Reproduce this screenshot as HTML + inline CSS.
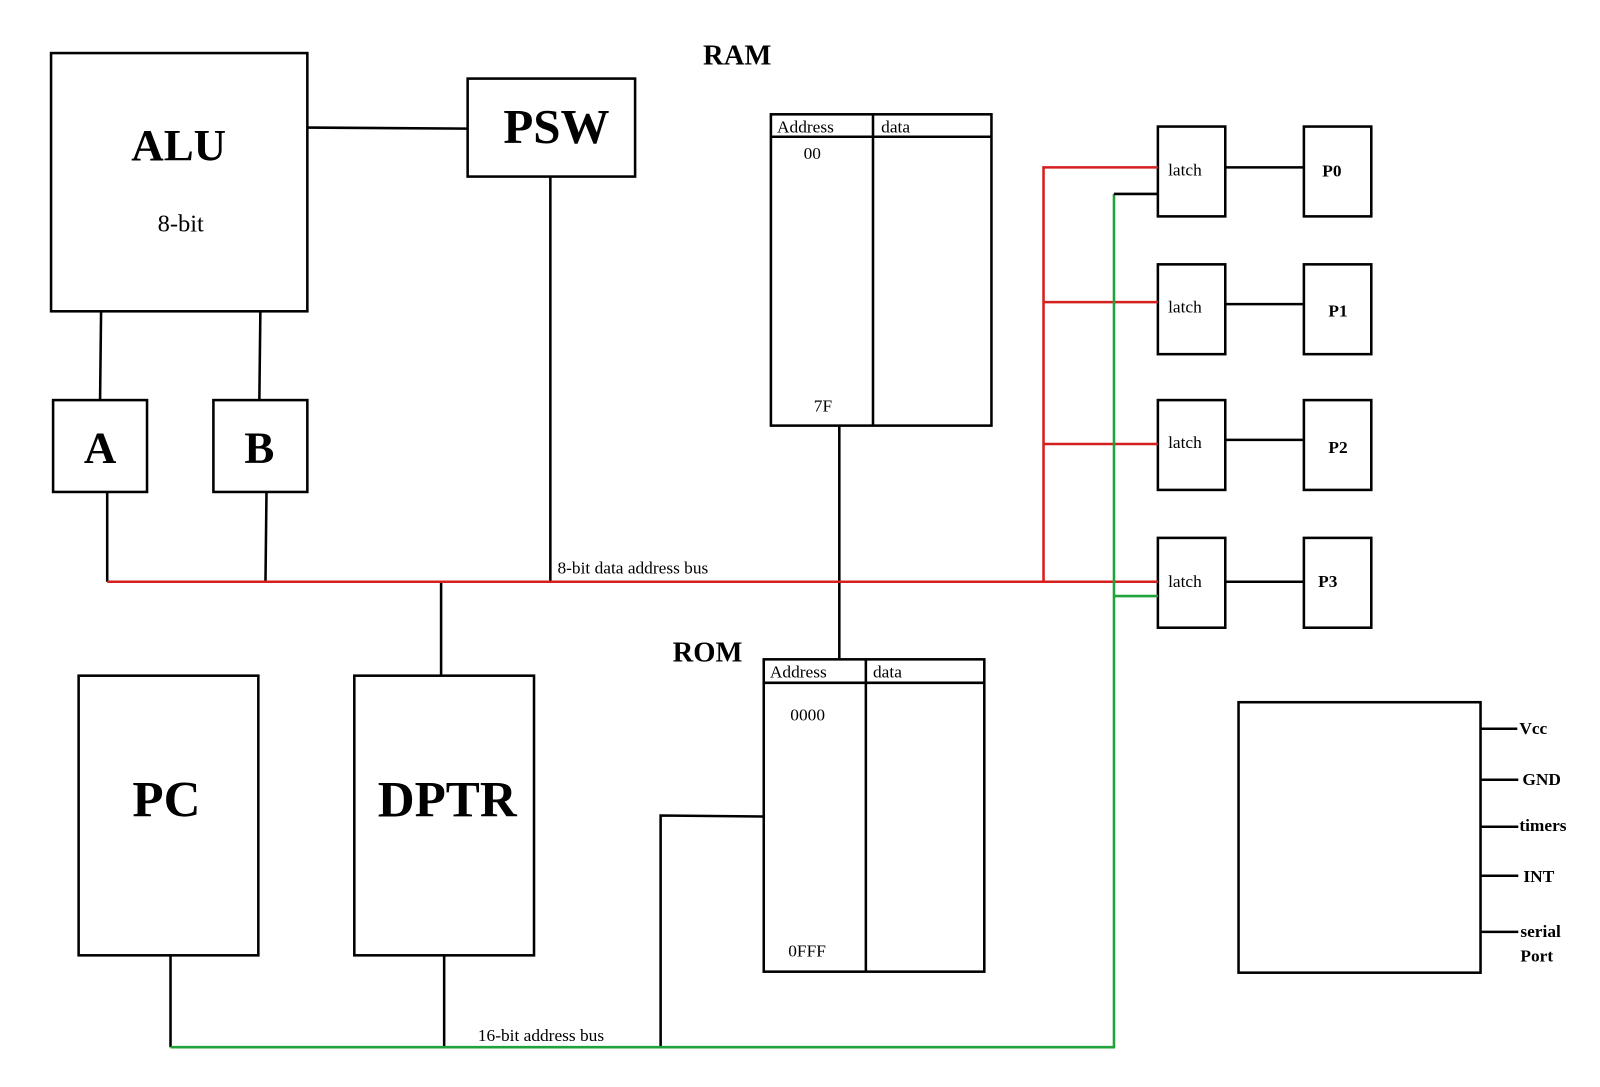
<!DOCTYPE html>
<html><head><meta charset="utf-8"><style>html,body{margin:0;padding:0;background:#fff}svg{display:block}text{font-family:"Liberation Serif",serif;fill:#000}</style></head><body>
<svg width="1600" height="1087" viewBox="0 0 1567 1065" preserveAspectRatio="none" xmlns="http://www.w3.org/2000/svg">
<g fill="none" stroke="#000" stroke-width="2.5">
<rect x="50" y="52" width="251" height="253"/>
<rect x="458" y="77" width="164" height="96"/>
<rect x="52" y="392" width="92" height="90"/>
<rect x="209" y="392" width="92" height="90"/>
<rect x="755" y="112" width="216" height="305"/>
<line x1="755" y1="134" x2="971" y2="134"/>
<line x1="855" y1="112" x2="855" y2="417"/>
<rect x="748" y="646" width="216" height="306"/>
<line x1="748" y1="669" x2="964" y2="669"/>
<line x1="848" y1="646" x2="848" y2="952"/>
<rect x="77" y="662" width="176" height="274"/>
<rect x="347" y="662" width="176" height="274"/>
<rect x="1134" y="124" width="66" height="88"/>
<rect x="1134" y="259" width="66" height="88"/>
<rect x="1134" y="392" width="66" height="88"/>
<rect x="1134" y="527" width="66" height="88"/>
<rect x="1277" y="124" width="66" height="88"/>
<rect x="1277" y="259" width="66" height="88"/>
<rect x="1277" y="392" width="66" height="88"/>
<rect x="1277" y="527" width="66" height="88"/>
<rect x="1213" y="688" width="237" height="265"/>
<line x1="301" y1="125" x2="458" y2="126"/>
<line x1="539" y1="173" x2="539" y2="570"/>
<line x1="99" y1="305" x2="98" y2="392"/>
<line x1="255" y1="305" x2="254" y2="392"/>
<line x1="105" y1="482" x2="105" y2="570"/>
<line x1="261" y1="482" x2="260" y2="570"/>
<line x1="432" y1="570" x2="432" y2="662"/>
<line x1="822" y1="417" x2="822" y2="646"/>
<line x1="167" y1="936" x2="167" y2="1026"/>
<line x1="435" y1="936" x2="435" y2="1026"/>
<polyline points="647,1026 647,799 748,800"/>
<line x1="1200" y1="164" x2="1277" y2="164"/>
<line x1="1200" y1="298" x2="1277" y2="298"/>
<line x1="1200" y1="431" x2="1277" y2="431"/>
<line x1="1200" y1="570" x2="1277" y2="570"/>
<line x1="1450" y1="714" x2="1486" y2="714"/>
<line x1="1450" y1="764" x2="1487" y2="764"/>
<line x1="1450" y1="810" x2="1487" y2="810"/>
<line x1="1450" y1="858" x2="1487" y2="858"/>
<line x1="1450" y1="913" x2="1487" y2="913"/>
</g>
<g fill="none" stroke="#d61f1f" stroke-width="2.5">
<line x1="105" y1="570" x2="1134" y2="570"/>
<polyline points="1022,570 1022,164 1134,164"/>
<line x1="1022" y1="296" x2="1134" y2="296"/>
<line x1="1022" y1="435" x2="1134" y2="435"/>
</g>
<g fill="none" stroke="#1fa33a" stroke-width="2.5">
<line x1="167" y1="1026" x2="1092" y2="1026"/>
<line x1="1091" y1="1026" x2="1091" y2="190"/>
<line x1="1091" y1="584" x2="1134" y2="584"/>
</g>
<polyline points="1091,190 1134,190" fill="none" stroke="#000" stroke-width="2.5"/>
<g font-weight="bold">
<text x="722" y="63" font-size="28" text-anchor="middle">RAM</text>
<text x="693" y="648" font-size="28" text-anchor="middle">ROM</text>
<text x="175" y="157" font-size="44" text-anchor="middle">ALU</text>
<text x="545" y="140" font-size="48" text-anchor="middle">PSW</text>
<text x="98" y="453" font-size="44" text-anchor="middle">A</text>
<text x="254" y="453" font-size="44" text-anchor="middle">B</text>
<text x="163" y="800" font-size="50" text-anchor="middle">PC</text>
<text x="438" y="800" font-size="50" text-anchor="middle">DPTR</text>
</g>
<text x="177" y="227" font-size="24" text-anchor="middle">8-bit</text>
<g font-size="17">
<text x="761" y="130">Address</text><text x="863" y="130">data</text>
<text x="787" y="156">00</text><text x="797" y="403">7F</text>
<text x="754" y="664">Address</text><text x="855" y="664">data</text>
<text x="774" y="706">0000</text><text x="772" y="937">0FFF</text>
<text x="546" y="562">8-bit data address bus</text>
<text x="468" y="1020">16-bit address bus</text>
<text x="1144" y="172">latch</text><text x="1144" y="306">latch</text>
<text x="1144" y="439">latch</text><text x="1144" y="575">latch</text>
</g>
<g font-size="17" font-weight="bold">
<text x="1295" y="173">P0</text><text x="1301" y="310">P1</text>
<text x="1301" y="444">P2</text><text x="1291" y="575">P3</text>
<text x="1488" y="719">Vcc</text><text x="1491" y="769">GND</text>
<text x="1488" y="814">timers</text><text x="1492" y="864">INT</text>
<text x="1489" y="918">serial</text><text x="1489" y="942">Port</text>
</g>
</svg>
</body></html>
